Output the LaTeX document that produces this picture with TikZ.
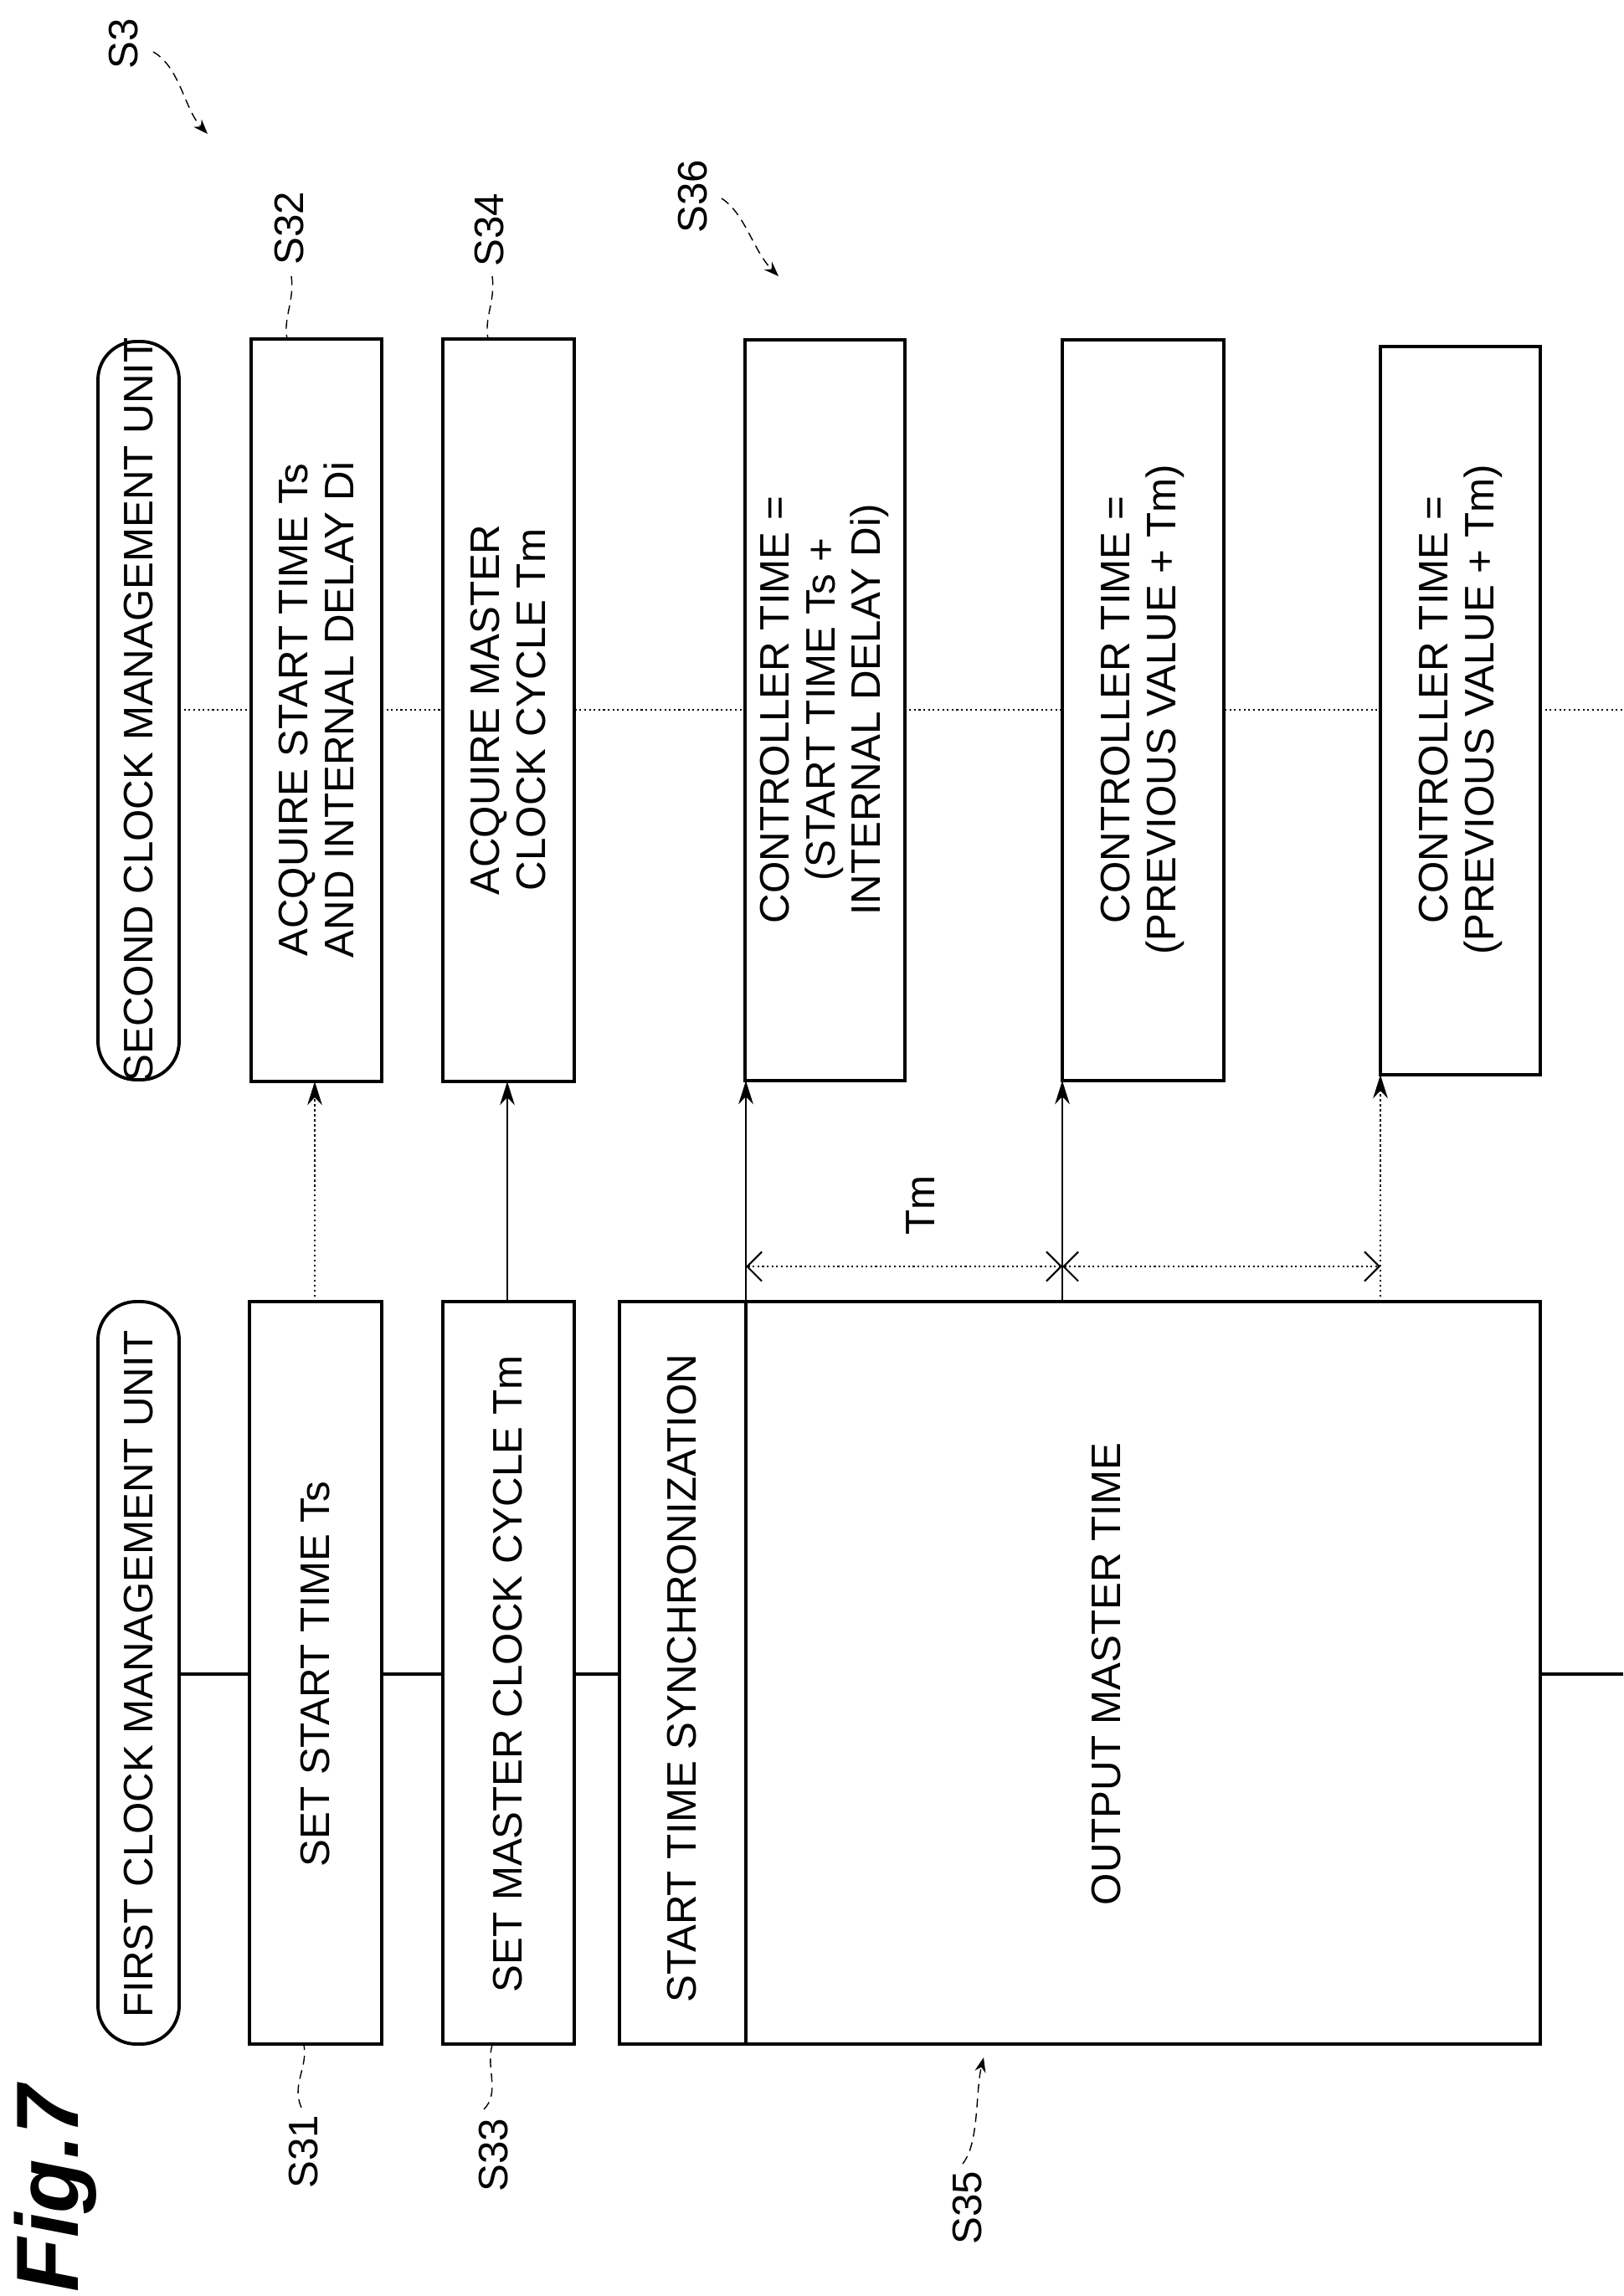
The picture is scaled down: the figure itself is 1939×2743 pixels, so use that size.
\documentclass[tikz,border=0pt]{standalone}
\usepackage{fontspec}
\setmainfont{Liberation Sans}
\usetikzlibrary{arrows.meta}
\begin{document}
\begin{tikzpicture}[x=0.01cm,y=-0.01cm,
  box/.style={draw,line width=1.1pt},
  txt/.style={rotate=90,align=center,font=\fontsize{14}{15.5}\selectfont},
  life/.style={line width=0.9pt},
  life2/.style={line width=0.6pt,densely dotted},
  arr/.style={line width=0.7pt,-{Stealth[length=8pt,width=5pt]}},
  dim/.style={line width=0.6pt,densely dotted,{Straight Barb[length=5pt]}-{Straight Barb[length=5pt]}},
  lab/.style={rotate=90,font=\fontsize{14}{16}\selectfont},
  sq/.style={line width=0.4pt,densely dashed}]
\useasboundingbox (0,0) rectangle (1939,2743);
% lifelines
\draw[life] (214,2000) -- (1939,2000);
\draw[life2] (214,848) -- (1939,848);
% headers
\draw[box,rounded corners=13pt,fill=white] (117,1555) rectangle (214,2442);
\node[txt] (h1) at (166,2000) {FIRST CLOCK MANAGEMENT UNIT};
\draw[box,rounded corners=13pt,fill=white] (117,408) rectangle (214,1290);
\node[txt] (h2) at (166,848) {SECOND CLOCK MANAGEMENT UNIT};
% first column boxes
\draw[box,fill=white] (298,1555) rectangle (456,2442);
\node[txt] (s31) at (377,2000) {SET START TIME Ts};
\draw[box,fill=white] (529,1555) rectangle (686,2442);
\node[txt] (s33) at (607,2000) {SET MASTER CLOCK CYCLE Tm};
\draw[box,fill=white] (740,1555) rectangle (1840,2442);
\draw[box] (891,1555) -- (891,2442);
\node[txt] (sync) at (815,2005) {START TIME SYNCHRONIZATION};
\node[txt] (out) at (1322,2000) {OUTPUT MASTER TIME};
% second column boxes
\draw[box,fill=white] (300,405) rectangle (456,1292);
\node[txt] (s32) at (378,848) {ACQUIRE START TIME Ts\\AND INTERNAL DELAY Di};
\draw[box,fill=white] (529,405) rectangle (686,1292);
\node[txt] (s34) at (607,848) {ACQUIRE MASTER\\CLOCK CYCLE Tm};
\draw[box,fill=white] (890,406) rectangle (1081,1291);
\node[txt] (c1) at (985,848) {CONTROLLER TIME =\\(START TIME Ts +\\INTERNAL DELAY Di)};
\draw[box,fill=white] (1269,406) rectangle (1462,1291);
\node[txt] (c2) at (1365,848) {CONTROLLER TIME =\\(PREVIOUS VALUE + Tm)};
\draw[box,fill=white] (1649,414) rectangle (1840,1284);
\node[txt] (c3) at (1745,848) {CONTROLLER TIME =\\(PREVIOUS VALUE + Tm)};
% arrows
\coordinate (a1) at (376,1555); \coordinate (b1) at (376,1292);
\coordinate (a2) at (606,1555); \coordinate (b2) at (606,1292);
\coordinate (a3) at (891,1555); \coordinate (b3) at (891,1291);
\coordinate (a4) at (1269,1555); \coordinate (b4) at (1269,1291);
\coordinate (a5) at (1649,1555); \coordinate (b5) at (1649,1284);
\draw[arr,densely dotted] (a1) -- (b1);
\draw[arr] (a2) -- (b2);
\draw[arr] (a3) -- (b3);
\draw[arr] (a4) -- (b4);
\draw[arr,densely dotted] (a5) -- (b5);
\coordinate (d1) at (891,1513); \coordinate (d2) at (1269,1513); \coordinate (d3) at (1649,1513);
\draw[dim] (d1) -- (d2);
\draw[dim] (d2) -- (d3);
\node[lab] (tm) at (1100,1440) {Tm};
% labels
\node[lab] (l31) at (363,2571) {S31};
\draw[sq] (360,2518) .. controls (348,2490) and (368,2470) .. (363,2443);
\node[lab] (l33) at (590,2575) {S33};
\draw[sq] (578,2520) .. controls (598,2500) and (580,2470) .. (588,2443);
\node[lab] (l35) at (1156,2638) {S35};
\draw[sq,-{Stealth[length=5pt]}] (1150,2585) .. controls (1170,2560) and (1165,2500) .. (1175,2458);
\node[lab] (l32) at (346,273) {S32};
\draw[sq] (348,330) .. controls (352,360) and (338,380) .. (343,405);
\node[lab] (l34) at (585,275) {S34};
\draw[sq] (588,330) .. controls (592,360) and (578,380) .. (583,405);
\node[lab] (l36) at (828,235) {S36};
\draw[sq,-{Stealth[length=5pt]}] (862,237) .. controls (890,255) and (900,300) .. (930,330);
\node[lab] (l3) at (148,52) {S3};
\draw[sq,-{Stealth[length=5pt]}] (183,62) .. controls (215,80) and (220,130) .. (248,160);
\node[rotate=90,font=\fontsize{30}{34}\selectfont\bfseries\itshape] (fig) at (66,2615) {Fig.7};
\end{tikzpicture}
\end{document}
